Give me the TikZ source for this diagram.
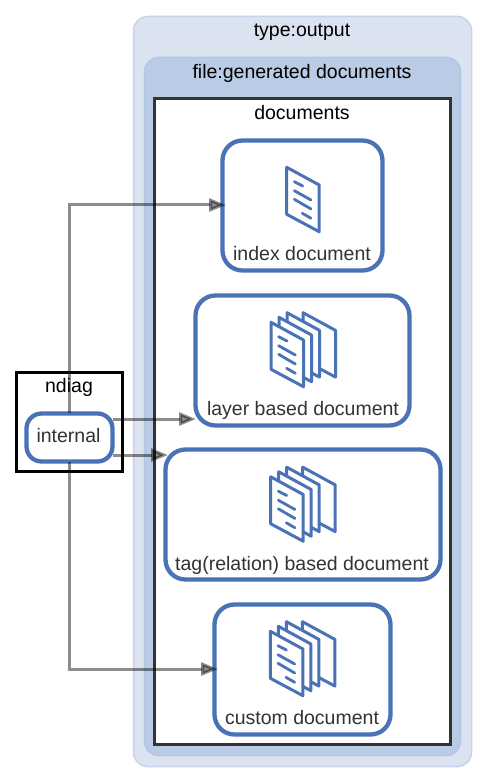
\documentclass[tikz,border=0pt]{standalone}
\usepackage{fontspec}
\setmainfont{Liberation Sans}
\usetikzlibrary{arrows.meta,positioning}
\definecolor{blueline}{HTML}{4A73B7}
\definecolor{outerfill}{HTML}{DBE2F0}
\definecolor{outerline}{HTML}{C6D3EA}
\definecolor{innerfill}{HTML}{B9CBE5}
\definecolor{innerline}{HTML}{B4C7E4}
\definecolor{txt}{HTML}{333333}
\tikzset{
  box/.style={draw,anchor=north west,inner sep=0pt,outer sep=0pt},
  outerbox/.style={box,draw=outerline,fill=outerfill,line width=1.5pt,rounded corners=14pt},
  innerbox/.style={box,draw=innerline,fill=innerfill,line width=1.5pt,rounded corners=14pt},
  plainbox/.style={box,fill=white,line width=3pt},
  item/.style={box,draw=blueline,fill=white,line width=4.3pt,rounded corners=20pt},
  title/.style={font=\fontsize{19.5}{21}\selectfont,text=black,inner sep=0pt,anchor=base},
  caption/.style={font=\fontsize{19.5}{21}\selectfont,text=txt,inner sep=0pt,anchor=base},
  conn/.style={draw=black,opacity=.45,line width=3pt,-{Triangle[length=17pt,width=13pt]}},
  page/.style={draw=blueline,fill=white,line width=3pt,line join=round},
  txtline/.style={draw=blueline,line width=2.8pt,line cap=round},
  pics/sheet/.style={code={
    \path[page] (0,0) -- (32.5,17.7) -- (32.5,64.4) -- (0,47) -- cycle;
  }},
  pics/lines/.style={code={
    \draw[txtline] (7.6,14.4) -- (16,18.7);
    \draw[txtline] (7.6,23.4) -- (24.3,32.7);
    \draw[txtline] (7.6,32) -- (24.3,41.7);
    \draw[txtline] (15.6,46) -- (24.3,51);
  }},
  pics/stack/.style={code={
    \pic at (32,-9.6) {sheet};
    \pic at (16,-9.6) {sheet};
    \pic at (8,-5) {sheet};
    \pic at (0,0) {sheet};
    \pic at (0,0) {lines};
  }}
}
\begin{document}
\begin{tikzpicture}[x=1pt,y=-1pt]
\useasboundingbox (0,0) rectangle (488,783);
\fill[white] (0,0) rectangle (488,783);
\node[outerbox,minimum width=338pt,minimum height=750pt] (output) at (133.5,16.5) {};
\node[innerbox,minimum width=316pt,minimum height=698pt] (generated) at (144.5,57.5) {};
\node[plainbox,draw=txt,minimum width=296pt,minimum height=646pt] (documents) at (154.5,98.5) {};
\node[title] (outputT) at (302,37) {type:output};
\node[title] (generatedT) at (302,79) {file:generated documents};
\node[title] (documentsT) at (302,120) {documents};

\node[item,minimum width=160pt,minimum height=130pt] (index) at (222.5,140.5) {};
\node[item,minimum width=214pt,minimum height=130pt] (layer) at (195.5,295.5) {};
\node[item,minimum width=275pt,minimum height=130pt] (tag) at (165.5,449.5) {};
\node[item,minimum width=176pt,minimum height=130pt] (custom) at (214.5,604.5) {};

\pic at (286.7,167.3) {sheet};
\pic at (286.7,167.3) {lines};
\pic at (271,322.3) {stack};
\pic at (270.7,476.8) {stack};
\pic at (270.4,631.3) {stack};

\node[caption] (indexT) at (302,261) {index document};
\node[caption] (layerT) at (303,415) {layer based document};
\node[caption] (tagT) at (302,570) {tag(relation) based document};
\node[caption] (customT) at (302,724) {custom document};

\node[plainbox,draw=black,minimum width=106pt,minimum height=99pt] (ndiag) at (16.5,372.5) {};
\node[title] (ndiagT) at (69,392) {ndiag};
\node[item,rounded corners=15pt,minimum width=86pt,minimum height=48pt] (internal) at (26.5,413.5) {};
\node[caption] (internalT) at (68.5,442) {internal};

\coordinate (indexIn) at (226,205);
\coordinate (layerIn) at (196,419);
\coordinate (tagIn) at (168,455);
\coordinate (customIn) at (218,669);
\coordinate (outA) at (113,419);
\coordinate (outB) at (113,455);
\coordinate (upOut) at (69,413);
\coordinate (downOut) at (69,462);

\draw[conn] (upOut) |- (indexIn);
\draw[conn] (downOut) |- (customIn);
\draw[conn] (outA) -- (layerIn);
\draw[conn] (outB) -- (tagIn);
\end{tikzpicture}
\end{document}
